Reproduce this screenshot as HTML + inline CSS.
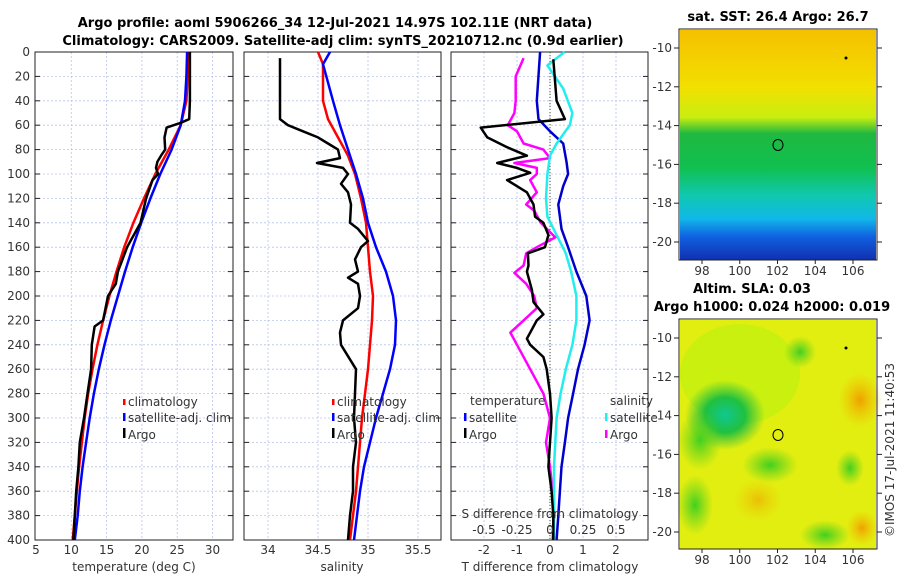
<!DOCTYPE html>
<html><head><meta charset="utf-8"><style>
body{margin:0;background:#fff;}
svg{display:block;font-family:"DejaVu Sans","Liberation Sans",sans-serif;}
.t{font-size:12px;fill:#333;}
.b{font-weight:bold;font-size:13px;fill:#000;}
</style></head><body>
<svg id="c" width="900" height="580" viewBox="0 0 900 580">
<defs>
<linearGradient id="sst" x1="0" y1="0" x2="0" y2="1">
<stop offset="0" stop-color="#f5c000"/><stop offset="0.25" stop-color="#f2e000"/><stop offset="0.38" stop-color="#c8ee10"/>
<stop offset="0.45" stop-color="#20b840"/><stop offset="0.6" stop-color="#10c050"/><stop offset="0.72" stop-color="#10c8b0"/>
<stop offset="0.82" stop-color="#10b8e8"/><stop offset="0.9" stop-color="#1060e0"/><stop offset="1" stop-color="#1030b0"/>
</linearGradient>
<radialGradient id="g1"><stop offset="0" stop-color="#10c890"/><stop offset="0.5" stop-color="#20c040"/><stop offset="1" stop-color="#30c040" stop-opacity="0"/></radialGradient>
<radialGradient id="g2"><stop offset="0" stop-color="#40d020"/><stop offset="1" stop-color="#60d020" stop-opacity="0"/></radialGradient>
<radialGradient id="o1"><stop offset="0" stop-color="#f0a000"/><stop offset="1" stop-color="#f0c000" stop-opacity="0"/></radialGradient>
</defs>
<text class="b" x="335" y="27" text-anchor="middle">Argo profile: aoml 5906266_34 12-Jul-2021 14.97S 102.11E (NRT data)</text>
<text class="b" x="343" y="45" text-anchor="middle">Climatology: CARS2009. Satellite-adj clim: synTS_20210712.nc (0.9d earlier)</text>
<g id="panels"></g>
<!-- maps -->
<g>
<text class="b" x="778" y="21" text-anchor="middle">sat. SST: 26.4 Argo: 26.7</text>
<rect x="680" y="30" width="196" height="230" fill="url(#sst)"/>
<rect x="679" y="29" width="198" height="231" fill="none" stroke="#222" stroke-width="1"/>
<ellipse cx="778" cy="145" rx="5" ry="5.5" fill="none" stroke="#000"/>
<circle cx="846" cy="58" r="1.5" fill="#000"/>
</g>
<g>
<text class="b" x="752" y="293" text-anchor="middle">Altim. SLA: 0.03</text>
<text class="b" x="772" y="311" text-anchor="middle">Argo h1000: 0.024 h2000: 0.019</text>
<rect x="680" y="320" width="196" height="229" fill="#e2ee10"/>
<ellipse cx="740" cy="374" rx="60" ry="50" fill="#c8f010" opacity="0.9"/>
<ellipse cx="725" cy="415" rx="40" ry="35" fill="url(#g1)"/>
<ellipse cx="700" cy="440" rx="22" ry="30" fill="url(#g2)"/>
<ellipse cx="770" cy="465" rx="28" ry="18" fill="url(#g2)"/>
<ellipse cx="695" cy="505" rx="18" ry="30" fill="url(#g2)"/>
<ellipse cx="800" cy="352" rx="16" ry="16" fill="url(#g2)"/>
<ellipse cx="850" cy="468" rx="14" ry="18" fill="url(#g2)"/>
<ellipse cx="825" cy="535" rx="25" ry="15" fill="url(#g2)"/>
<ellipse cx="860" cy="400" rx="22" ry="28" fill="url(#o1)"/>
<ellipse cx="758" cy="500" rx="25" ry="22" fill="url(#o1)" opacity="0.6"/>
<ellipse cx="862" cy="528" rx="16" ry="18" fill="url(#o1)"/>
<rect x="679" y="319" width="198" height="230" fill="none" stroke="#222"/>
<ellipse cx="778" cy="435" rx="5" ry="5.5" fill="none" stroke="#000"/>
<circle cx="846" cy="348" r="1.5" fill="#000"/>
</g>
<text class="t" transform="translate(894,450) rotate(-90)" text-anchor="middle">©IMOS 17-Jul-2021 11:40:53</text>
<g id="maxes"></g>
</svg>
<script>
const depths=[0,20,40,55,58,62,70,80,85,90,95,100,105,120,140,160,180,190,200,220,225,240,260,280,300,320,340,360,380,400];
const tempArgo=[26.8,26.8,26.8,26.7,25.5,23.5,23.2,23.3,22.7,22.2,22.0,22.3,21.5,20.6,19.8,17.9,16.6,16.3,15.2,14.5,13.3,12.9,12.8,12.3,11.8,11.2,11.0,10.7,10.5,10.3];
const climDepths=[0,20,40,60,80,100,120,140,160,180,200,220,240,260,280,300,320,340,360,380,400];
const tempClim=[26.6,26.5,26.3,25.5,23.8,21.9,20.3,18.8,17.5,16.4,15.4,14.5,13.7,13.0,12.4,11.9,11.5,11.1,10.8,10.5,10.2];
const tempSat=[26.4,26.3,26.1,25.5,24.2,22.6,21.2,19.9,18.7,17.6,16.6,15.6,14.7,13.9,13.2,12.6,12.1,11.6,11.2,10.9,10.5];
const salDepthsArgo=[5,55,60,65,70,75,80,87,91,95,100,108,115,125,140,145,155,160,170,180,185,190,200,210,220,230,240,260,280,300,320,340,360,380,400];
const salArgo=[34.12,34.12,34.2,34.35,34.5,34.6,34.7,34.72,34.49,34.75,34.8,34.73,34.8,34.83,34.82,34.9,35.0,34.93,34.87,34.9,34.8,34.9,34.92,34.9,34.75,34.72,34.73,34.88,34.87,34.86,34.88,34.85,34.85,34.82,34.8];
const salDepthsClim=[0,10,40,55,70,85,100,120,140,160,180,200,220,240,260,280,300,320,340,360,380,400];
const salClim=[34.5,34.55,34.55,34.6,34.7,34.8,34.87,34.93,34.98,35.0,35.02,35.05,35.04,35.02,35.0,34.97,34.94,34.92,34.9,34.88,34.85,34.82];
const salDepthsSat=[0,10,40,60,80,100,120,140,160,180,200,220,240,260,280,300,320,340,360,380,400];
const salSat=[34.62,34.55,34.65,34.72,34.8,34.88,34.95,35.0,35.08,35.18,35.25,35.28,35.27,35.22,35.15,35.08,35.02,34.96,34.92,34.89,34.86];
const dTDepthsArgo=[6,40,55,62,70,78,85,91,95,99,105,115,125,135,140,150,160,165,175,180,195,205,215,220,235,240,250,260,280,300,320,340,360,380,400];
const dTArgo=[0.1,0.2,0.45,-2.1,-1.9,-1.3,-0.7,-1.6,-1.0,-0.6,-1.3,-0.7,-0.5,-0.45,-0.2,-0.05,-0.15,-0.67,-0.65,-0.7,-0.55,-0.5,-0.2,-0.4,-0.7,-0.6,-0.2,-0.1,0.0,0.05,0.0,-0.05,0.05,0.1,0.1];
const dTDepthsSat=[0,40,55,65,75,90,100,110,125,145,160,180,200,220,240,260,280,300,320,340,360,380,400];
const dTSat=[-0.3,-0.4,-0.35,0.0,0.4,0.5,0.55,0.4,0.25,0.35,0.55,0.8,1.1,1.2,1.05,0.85,0.7,0.55,0.45,0.35,0.3,0.25,0.2];
const dSDepthsArgo=[5,20,40,50,60,65,75,80,87,91,95,100,105,115,125,130,140,152,160,165,175,181,190,200,210,220,230,240,260,280,300,320,340,360,380,400];
const dSArgo=[-0.2,-0.26,-0.26,-0.27,-0.32,-0.25,-0.2,-0.05,0.0,-0.27,-0.1,-0.1,-0.15,-0.1,-0.18,-0.12,-0.07,0.04,-0.1,-0.18,-0.2,-0.27,-0.18,-0.12,-0.1,-0.2,-0.3,-0.25,-0.15,-0.05,0.0,-0.03,0.0,0.02,0.03,0.02];
const dSDepthsSat=[0,11,30,50,60,75,85,100,120,135,150,165,180,200,220,240,260,280,300,320,340,360,380,400];
const dSSat=[0.11,-0.02,0.1,0.17,0.15,0.05,0.0,-0.02,-0.03,-0.02,0.05,0.12,0.16,0.2,0.2,0.17,0.12,0.08,0.05,0.04,0.03,0.03,0.03,0.03];
const depthTicks=[0,20,40,60,80,100,120,140,160,180,200,220,240,260,280,300,320,340,360,380,400];
const tempTicks=[5,10,15,20,25,30];
const salTicks=[34,34.5,35,35.5];
const dTTicks=[-2,-1,0,1,2];
const dSTicks=[-0.5,-0.25,0,0.25,0.5];
const dSTickLabels=['-0.5','-0.25','0','0.25','0.5'];
const lonTicks=[98,100,102,104,106];
const latTicks=[-10,-12,-14,-16,-18,-20];

const NS='http://www.w3.org/2000/svg';
const G=document.getElementById('panels');
function mk(tag,a,p){const e=document.createElementNS(NS,tag);for(const k in a)e.setAttribute(k,a[k]);(p||G).appendChild(e);return e;}
const top0=52,bot=540;
const yD=d=>top0+d*(bot-top0)/400;
function lin(d0,d1,r0,r1){return v=>r0+(v-d0)*(r1-r0)/(d1-d0);}
const xT=lin(5,10,36,71.3);
const xS=lin(34,34.5,268,318);
const xdT=lin(0,1,550,583);
const xdS=lin(0,0.5,550,616);
const panels=[{x0:35,x1:233,name:'temperature-panel'},{x0:244,x1:441,name:'salinity-panel'},{x0:451,x1:648,name:'difference-panel'}];
function grid(p,xs,sx){
  for(const d of depthTicks){const y=yD(d);
    const l=mk('line',{x1:p.x0,x2:p.x1,y1:y,y2:y,stroke:'#b8c4ec','stroke-width':0.8,'stroke-dasharray':'2,2'});
    
    
    mk('line',{x1:p.x0,x2:p.x0+5,y1:y,y2:y,stroke:'#222'});mk('line',{x1:p.x1-5,x2:p.x1,y1:y,y2:y,stroke:'#222'});}
  for(const v of xs){const x=sx(v);
    const l=mk('line',{x1:x,x2:x,y1:top0,y2:bot,stroke:'#b8c4ec','stroke-width':0.8,'stroke-dasharray':'2,2'});
    
    
    const t=mk('text',{x:x,y:bot+14,'text-anchor':'middle',class:'t'});t.textContent=v;
    
    }
  const r=mk('rect',{x:p.x0,y:top0,width:p.x1-p.x0,height:bot-top0,fill:'none',stroke:'#222'});
  
  
}
grid(panels[0],tempTicks.slice(1),xT);
{const t=mk('text',{x:xT(5),y:bot+14,'text-anchor':'middle',class:'t'});t.textContent='5';}
grid(panels[1],salTicks,xS);
grid(panels[2],dTTicks,xdT);
mk('line',{x1:550,x2:550,y1:top0,y2:bot,stroke:'#445522','stroke-dasharray':'1,2'});
for(const d of depthTicks){const t=mk('text',{x:30,y:yD(d)+4,'text-anchor':'end',class:'t'});t.textContent=d;
  
  }
function line(ds,vs,sx,col,name){
  const pts=ds.map((d,i)=>sx(vs[i]).toFixed(1)+','+yD(d).toFixed(1)).join(' ');
  const e=mk('polyline',{points:pts,fill:'none',stroke:col,'stroke-width':2.5,'stroke-linejoin':'round'});
  
  
}
line(climDepths,tempClim,xT,'#f00','temp-climatology-line');
line(climDepths,tempSat,xT,'#00f','temp-satellite-line');
line(depths,tempArgo,xT,'#000','temp-argo-line');
line(salDepthsClim,salClim,xS,'#f00','sal-climatology-line');
line(salDepthsSat,salSat,xS,'#00f','sal-satellite-line');
line(salDepthsArgo,salArgo,xS,'#000','sal-argo-line');
line(dSDepthsArgo,dSArgo,xdS,'#f0f','sdiff-argo-line');
line(dTDepthsSat,dTSat,xdT,'#00c','tdiff-satellite-line');
line(dSDepthsSat,dSSat,xdS,'#2ee','sdiff-satellite-line');
line(dTDepthsArgo,dTArgo,xdT,'#000','tdiff-argo-line');
function txt(x,y,s,name,anchor){const t=mk('text',{x:x,y:y,class:'t','text-anchor':anchor||'start'});t.textContent=s;
  
  return t;}
function leg(x,y,col,s,name,h){mk('rect',{x:x,y:y-(h||8),width:2.5,height:h||8,fill:col});txt(x+5,y+1,s,name);}
leg(123,405,'#f00','climatology','legend-climatology',6);
leg(123,421,'#00f','satellite-adj. clim','legend-satellite',8);
leg(123,438,'#000','Argo','legend-argo',10);
leg(332,405,'#f00','climatology','legend-sal-climatology',6);
leg(332,421,'#00f','satellite-adj. clim','legend-sal-satellite',8);
leg(332,438,'#000','Argo','legend-sal-argo',10);
txt(470,405,'temperature','legend-temperature-header');
txt(610,405,'salinity','legend-salinity-header');
leg(464,421,'#00f','satellite','legend-t-satellite',8);
leg(464,438,'#000','Argo','legend-t-argo',10);
leg(605,421,'#2ee','satellite','legend-s-satellite',8);
leg(605,438,'#f0f','Argo','legend-s-argo',8);
txt(550,518,'S difference from climatology','s-axis-title','middle');
dSTicks.forEach((v,i)=>txt(xdS(v),534,dSTickLabels[i],'s-tick-label','middle'));
txt(134,571,'temperature (deg C)','x-axis-title-temp','middle');
txt(342,571,'salinity','x-axis-title-sal','middle');
txt(550,571,'T difference from climatology','x-axis-title-tdiff','middle');
// map axes
const M=document.getElementById('maxes');
const xLon=lin(98,106,702,853);
const yLat1=lin(-10,-20,48,242), yLat2=lin(-10,-20,338,532);
for(const [yl,bY] of [[yLat1,260],[yLat2,549]]){
  for(const v of latTicks){const y=yl(v);
    mk('line',{x1:674,x2:679,y1:y,y2:y,stroke:'#222'},M);mk('line',{x1:877,x2:882,y1:y,y2:y,stroke:'#222'},M);
    const t=mk('text',{x:672,y:y+4,'text-anchor':'end',class:'t'},M);t.textContent=v;
    
    }
  for(const v of lonTicks){const x=xLon(v);
    mk('line',{x1:x,x2:x,y1:bY,y2:bY+4,stroke:'#222'},M);
    const t=mk('text',{x:x,y:bY+15,'text-anchor':'middle',class:'t'},M);t.textContent=v;
    
    }
}
</script>
</body></html>
